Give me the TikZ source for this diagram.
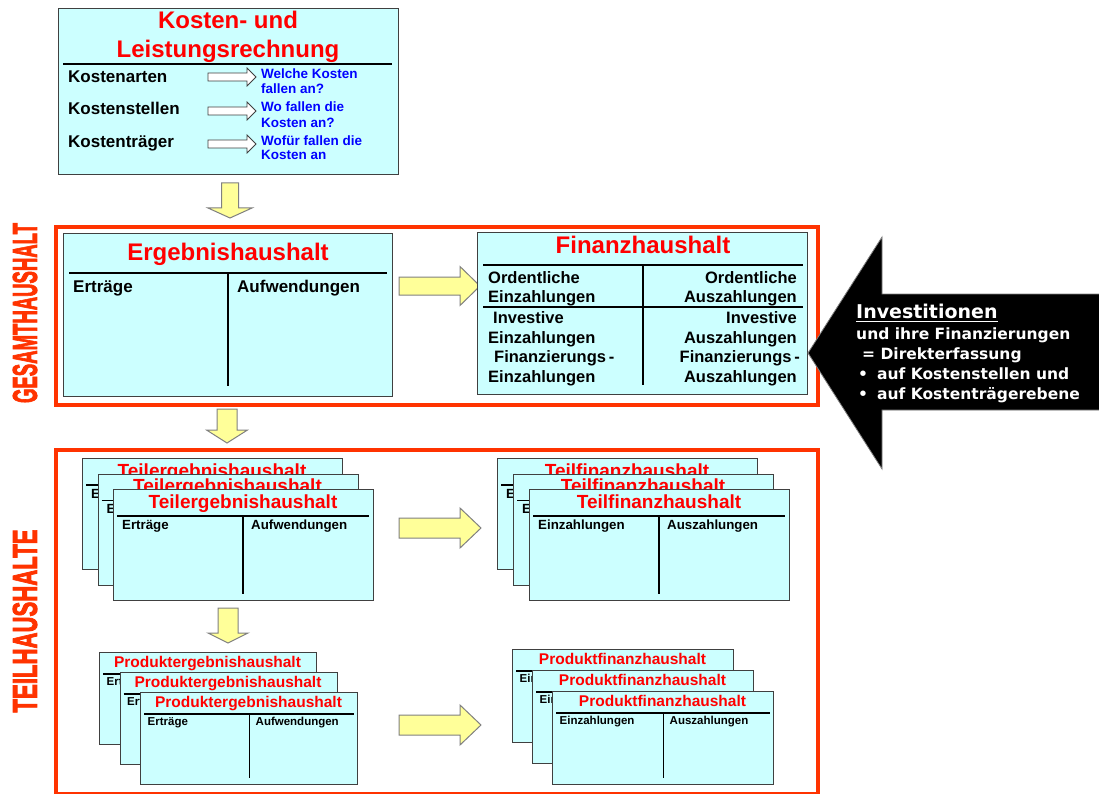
\documentclass[tikz,border=0pt]{standalone}
\usepackage{fontspec}
\setmainfont{Liberation Sans}
\newfontfamily\dvs{DejaVu Sans}
\newfontfamily\heavy[FakeBold=3]{Liberation Sans Bold}
\usepackage{graphicx}
\usetikzlibrary{calc}
\definecolor{boxfill}{HTML}{CCFFFF}
\definecolor{boxline}{HTML}{404040}
\definecolor{titlered}{HTML}{FF0000}
\definecolor{framered}{HTML}{FF3300}
\definecolor{yfill}{HTML}{FFFF99}
\definecolor{ydraw}{HTML}{808080}
\definecolor{qblue}{HTML}{0000FF}

% horizontal block arrow: [style]{x1}{xhead}{xtip}{yc}{shaft half}{head half}
\newcommand{\harr}[7][]{\draw[#1] (#2,{#5-#6}) -- (#3,{#5-#6}) -- (#3,{#5-#7}) -- (#4,#5) -- (#3,{#5+#7}) -- (#3,{#5+#6}) -- (#2,{#5+#6}) -- cycle;}
% vertical block arrow: [style]{xc}{y1}{yhead}{ytip}{shaft half}{head half}
\newcommand{\varr}[7][]{\draw[#1] ({#2-#6},#3) -- ({#2+#6},#3) -- ({#2+#6},#4) -- ({#2+#7},#4) -- (#2,#5) -- ({#2-#7},#4) -- ({#2-#6},#4) -- cycle;}

% Teil account box: name, x, y, w, h, title, left, right
\newcommand{\tacctA}[8]{%
 \node[acct, minimum width=#4pt, minimum height=#5pt, anchor=north west] (#1) at (#2,#3) {};
 \node[ttlA, anchor=base] (#1t) at ({#2+#4/2},{#3+19}) {#6};
 \draw[tline] ({#2+4},{#3+27}) -- ({#2+#4-4},{#3+27});
 \draw[tline] ({#2+#4/2},{#3+27}) -- ({#2+#4/2},{#3+#5-6});
 \node[txtA, anchor=base west] (#1l) at ({#2+9},{#3+40}) {#7};
 \node[txtA, anchor=base west] (#1r) at ({#2+#4/2+8},{#3+40}) {#8};
}
% Produkt account box
\newcommand{\tacctB}[8]{%
 \node[acct, minimum width=#4pt, minimum height=#5pt, anchor=north west] (#1) at (#2,#3) {};
 \node[ttlB, anchor=base] (#1t) at ({#2+#4/2},{#3+15}) {#6};
 \draw[tline] ({#2+4},{#3+22}) -- ({#2+#4-3},{#3+22});
 \draw[tline] ({#2+#4/2+1},{#3+22}) -- ({#2+#4/2+1},{#3+#5-6});
 \node[txtB, anchor=base west] (#1l) at ({#2+7.5},{#3+33}) {#7};
 \node[txtB, anchor=base west] (#1r) at ({#2+#4/2+7},{#3+33}) {#8};
}

\tikzset{
 acct/.style={draw=boxline, fill=boxfill, line width=1.1pt, inner sep=0pt},
 frame/.style={draw=framered, line width=4pt, inner sep=0pt},
 tline/.style={black, line width=1.8pt},
 ttl/.style={text=titlered, font=\bfseries\fontsize{24}{28}\selectfont, inner sep=0pt},
 ttlA/.style={text=titlered, font=\bfseries\fontsize{19}{22}\selectfont, inner sep=0pt},
 ttlB/.style={text=titlered, font=\bfseries\fontsize{15.5}{18}\selectfont, inner sep=0pt},
 lbl/.style={font=\bfseries\fontsize{17}{20}\selectfont, inner sep=0pt},
 lblF/.style={font=\bfseries\fontsize{16.5}{19}\selectfont, inner sep=0pt},
 txtA/.style={font=\bfseries\fontsize{13.3}{16}\selectfont, inner sep=0pt},
 txtB/.style={font=\bfseries\fontsize{11.5}{14}\selectfont, inner sep=0pt},
 qtxt/.style={text=qblue, font=\bfseries\fontsize{13.5}{16}\selectfont, inner sep=0pt},
 wtxtbig/.style={text=white, font=\dvs\bfseries\fontsize{19}{22}\selectfont, inner sep=0pt},
 wtxt/.style={text=white, font=\dvs\bfseries\fontsize{15.5}{18}\selectfont, inner sep=0pt},
 vlabel/.style={text=framered, font=\heavy, inner sep=0pt},
 yarr/.style={draw=ydraw, fill=yfill, line width=1pt},
 warr/.style={draw=boxline, fill=white, line width=0.8pt},
}

\begin{document}
\begin{tikzpicture}[x=1pt, y=-1pt]
\useasboundingbox (0,0) rectangle (1099,794);

% ---------- Kosten- und Leistungsrechnung ----------
\node[acct, minimum width=340pt, minimum height=166pt, anchor=north west] (klr) at (58,8) {};
\node[ttl, anchor=base] (klrt1) at (228,29) {Kosten- und};
\node[ttl, anchor=base] (klrt2) at (228,58) {Leistungsrechnung};
\draw[tline] (63,64) -- (392,64);
\node[lbl, anchor=base west] (ka) at (68,83) {Kostenarten};
\node[lbl, anchor=base west] (ks) at (68,115) {Kostenstellen};
\node[lbl, anchor=base west] (kt) at (68,148) {Kostenträger};
\harr[warr]{208}{247}{256}{77}{4}{9}
\harr[warr]{208}{247}{256}{111}{4}{9}
\harr[warr]{208}{247}{256}{144}{4}{9}
\node[qtxt, anchor=base west] (q1a) at (261,79) {Welche Kosten};
\node[qtxt, anchor=base west] (q1b) at (261,94) {fallen an?};
\node[qtxt, anchor=base west] (q2a) at (261,112) {Wo fallen die};
\node[qtxt, anchor=base west] (q2b) at (261,128) {Kosten an?};
\node[qtxt, anchor=base west] (q3a) at (261,146) {Wofür fallen die};
\node[qtxt, anchor=base west] (q3b) at (261,160) {Kosten an};

\varr[yarr]{230}{183}{208}{218}{8.5}{22}

% ---------- Gesamthaushalt ----------
\node[frame, minimum width=762pt, minimum height=177.5pt, anchor=north west] (gesamt) at (53.5,225) {};
\node[vlabel, rotate=90] (gl) at (25,313) {\resizebox{180pt}{24pt}{GESAMTHAUSHALT}};

\node[acct, minimum width=329pt, minimum height=163pt, anchor=north west] (erg) at (63,233) {};
\node[ttl, anchor=base] (ergt) at (228,260) {Ergebnishaushalt};
\draw[tline] (69,273) -- (387,273);
\draw[tline] (228,273) -- (228,386);
\node[lbl, anchor=base west] (ergl) at (73,292) {Erträge};
\node[lbl, anchor=base west] (ergr) at (237,292) {Aufwendungen};

\harr[yarr]{399}{460}{480}{286}{9}{19.5}

\node[acct, minimum width=330pt, minimum height=162pt, anchor=north west] (fin) at (477,232) {};
\node[ttl, anchor=base] (fint) at (643,254) {Finanzhaushalt};
\draw[tline] (483,265) -- (803,265);
\draw[tline] (483,307) -- (803,307);
\draw[tline] (643,265) -- (643,385);
\node[lblF, anchor=base west] (fl1) at (488,283) {Ordentliche};
\node[lblF, anchor=base west] (fl2) at (488,302) {Einzahlungen};
\node[lblF, anchor=base west] (fl3) at (493,323) {Investive};
\node[lblF, anchor=base west] (fl4) at (488,343) {Einzahlungen};
\node[lblF, anchor=base west] (fl5) at (494,362) {Finanzierungs\,-};
\node[lblF, anchor=base west] (fl6) at (488,382) {Einzahlungen};
\node[lblF, anchor=base east] (fr1) at (797,283) {Ordentliche};
\node[lblF, anchor=base east] (fr2) at (797,302) {Auszahlungen};
\node[lblF, anchor=base east] (fr3) at (797,323) {Investive};
\node[lblF, anchor=base east] (fr4) at (797,343) {Auszahlungen};
\node[lblF, anchor=base east] (fr5) at (800,362) {Finanzierungs\,-};
\node[lblF, anchor=base east] (fr6) at (797,382) {Auszahlungen};

% ---------- black arrow ----------
\draw[fill=black, draw=gray, line width=0.8pt] (808,353) -- (882,237) -- (882,294) -- (1100,294) -- (1100,410) -- (882,410) -- (882,469) -- cycle;
\node[wtxtbig, anchor=base west] (inv) at (856,318) {Investitionen};
\draw[white, line width=1.5pt] ($(inv.base west)+(0,3.5)$) -- ($(inv.base east)+(0,3.5)$);
\node[wtxt, anchor=base west] (inv2) at (856,339) {und ihre Finanzierungen};
\node[wtxt, anchor=base west] (inv3) at (862,359) {= Direkterfassung};
\node[wtxt, anchor=base west] (bul1) at (858,379) {•};
\node[wtxt, anchor=base west] (inv4) at (877,379) {auf Kostenstellen und};
\node[wtxt, anchor=base west] (bul2) at (858,399) {•};
\node[wtxt, anchor=base west] (inv5) at (877,399) {auf Kostenträgerebene};

\varr[yarr]{227}{409}{430}{443}{10}{20.5}

% ---------- Teilhaushalte ----------
\node[frame, minimum width=762pt, minimum height=344pt, anchor=north west] (teil) at (53.5,447.5) {};
\node[vlabel, rotate=90] (tl) at (25,621) {\resizebox{183pt}{24pt}{TEILHAUSHALTE}};

\tacctA{te1}{82}{458}{260}{111}{Teilergebnishaushalt}{Erträge}{Aufwendungen}
\tacctA{te2}{97.5}{473.5}{260}{111}{Teilergebnishaushalt}{Erträge}{Aufwendungen}
\tacctA{te3}{113}{489}{260}{111}{Teilergebnishaushalt}{Erträge}{Aufwendungen}

\harr[yarr]{399}{460}{481}{528}{10}{20}

\tacctA{tf1}{497}{458}{260}{111}{Teilfinanzhaushalt}{Einzahlungen}{Auszahlungen}
\tacctA{tf2}{513}{473.5}{260}{111}{Teilfinanzhaushalt}{Einzahlungen}{Auszahlungen}
\tacctA{tf3}{529}{489}{260}{111}{Teilfinanzhaushalt}{Einzahlungen}{Auszahlungen}

\varr[yarr]{228}{608}{633}{643}{10}{20}

\tacctB{pe1}{99}{652}{217}{92}{Produktergebnishaushalt}{Erträge}{Aufwendungen}
\tacctB{pe2}{119.5}{672}{217}{92}{Produktergebnishaushalt}{Erträge}{Aufwendungen}
\tacctB{pe3}{140}{692}{217}{92}{Produktergebnishaushalt}{Erträge}{Aufwendungen}

\harr[yarr]{399}{460}{481}{725}{10}{20}

\tacctB{pf1}{512}{649}{221}{93}{Produktfinanzhaushalt}{Einzahlungen}{Auszahlungen}
\tacctB{pf2}{532}{670}{221}{93}{Produktfinanzhaushalt}{Einzahlungen}{Auszahlungen}
\tacctB{pf3}{552}{691}{221}{93}{Produktfinanzhaushalt}{Einzahlungen}{Auszahlungen}

\end{tikzpicture}
\end{document}
